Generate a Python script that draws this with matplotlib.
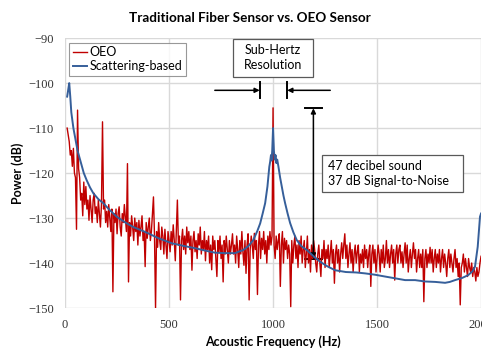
import matplotlib
matplotlib.use("Agg")
import matplotlib.pyplot as plt
from matplotlib.patches import Rectangle

# OEO spectrum, 5 Hz steps from 10 to 2000 Hz (one row per 100 Hz)
oeo_freq = list(range(10, 2001, 5))
oeo_db = [
    -110, -111.5, -113, -116, -115, -118.5, -114.5, -120, -121, -132.5,
    -106, -119, -121, -126, -124.5, -129.5, -122, -127, -123, -128,
    -126, -130.5, -125, -128, -131, -126, -124.5, -129, -127.5, -131,
    -126, -129, -132, -127, -108.6, -128, -126, -131, -128.5, -132,
    -127, -130, -133, -128, -146.4, -129, -131, -128, -133.5, -129,
    -127.5, -132, -134, -129, -131, -127, -130, -133, -117.9, -144.2,
    -131, -134, -129.5, -132, -135, -130, -133, -131, -136, -130.5,
    -134, -132, -129.5, -135, -133, -140.8, -131, -134.5, -132, -130,
    -135, -133, -129, -125.3, -134, -150, -133, -136.5, -131, -135,
    -137, -132, -134, -138, -132.5, -136, -139, -133, -135, -137.5,
    -133, -136, -131.5, -135, -139.5, -133, -126, -136, -134, -148.2,
    -135, -132.5, -137, -134, -138, -132, -135.5, -133, -137, -134,
    -141.6, -135, -133, -137.5, -135, -139, -133.5, -136, -132, -138,
    -135, -137, -133, -139.5, -135, -137, -134, -140, -136, -141.5,
    -134, -137, -135, -139, -143, -135, -137.5, -134, -139, -136,
    -144.2, -135, -138, -134, -137, -140, -135, -138, -136, -133.5,
    -138, -136, -140, -134, -137, -141, -135, -138, -133, -137.5,
    -140.5, -135, -142.3, -136, -133.5, -148.2, -137, -134, -136, -139,
    -133.4, -137, -135, -147, -136, -133, -139, -134.5, -137, -133,
    -138, -135, -140, -134, -137, -133, -136, -134, -105.5, -136,
    -139, -134, -137, -135, -133.5, -145.2, -136, -133, -140, -134.5,
    -137, -135, -139, -136, -138, -149.7, -135, -140, -136, -134,
    -139, -136, -141, -135, -138, -134, -140, -137, -135, -141,
    -138, -134, -140, -137, -142, -136, -139, -135, -137, -140,
    -142, -138, -136, -140, -143, -137, -139, -135, -141, -137,
    -139, -136, -141, -138, -135, -140, -137, -144.5, -138, -136,
    -140, -137, -142, -138, -135.5, -139, -136, -133.5, -139, -136,
    -141, -138, -135.5, -140, -137, -142, -138, -136, -140, -137.5,
    -136, -142, -138, -140, -137, -141, -136, -139, -137, -141,
    -138, -136, -145.2, -138, -136, -140, -137, -142, -139, -136,
    -138, -142, -137, -140, -136, -141, -139, -135, -140, -137,
    -141, -138, -136, -140, -137, -143.8, -138, -136, -140, -137,
    -136, -140, -137.5, -141, -138, -135.5, -140, -136, -142, -139,
    -137, -141, -138, -135.5, -139, -137, -142, -139, -137, -141,
    -138, -141, -137, -148.6, -139, -137, -141, -138, -140, -136.5,
    -140, -137, -142, -139, -137, -141, -138, -140, -137, -142,
    -139, -137, -141, -138, -140, -143, -139, -137, -141, -138,
    -140, -142, -139, -137, -141, -139, -143, -140, -149.3, -141,
    -140, -138, -142, -139, -141, -143, -139, -141, -142, -140,
    -143, -141, -142, -144, -141, -143, -142, -140, -138.5,
]

# scattering-based sensor spectrum
scat_freq = [10, 15, 20, 25, 30, 40, 50, 60, 72, 90, 104, 120, 136, 160, 184,
             210, 248, 290, 328, 370, 400, 450, 513, 570, 625, 680, 721, 770,
             817, 857, 880, 905, 925, 938, 950, 962, 973, 982, 986, 990, 993,
             996, 1000, 1004, 1008, 1012, 1016, 1020, 1026, 1034, 1042, 1050,
             1058, 1070, 1082, 1098, 1114, 1135, 1162, 1190, 1226, 1260, 1298,
             1350, 1400, 1442, 1490, 1538, 1587, 1635, 1683, 1730, 1780, 1827,
             1850, 1875, 1910, 1938, 1960, 1971, 1984, 1995, 2000]
scat_db = [-103, -101.5, -100, -103, -106.5, -110, -112.5, -115, -117, -120,
           -121.6, -123.2, -124.5, -125.8, -126.7, -128, -129.7, -131, -132,
           -132.8, -133.4, -134.5, -135.6, -136.2, -136.7, -137.3, -137.7,
           -137.8, -137.8, -137.1, -136.3, -134.9, -132.8, -131.2, -129,
           -126.7, -123, -118.6, -117.5, -116, -117.2, -115, -110, -115, -117,
           -116, -117.8, -117, -118.6, -121, -123, -125, -126.7, -129, -131.1,
           -133.2, -134.9, -136.2, -137.1, -138.3, -139.7, -140.7, -141.6,
           -142, -142.1, -142.3, -142.6, -143, -143.4, -143.8, -143.8, -144.1,
           -144.2, -144.4, -144.2, -143.8, -143.3, -142.7, -141.8, -140.8,
           -136.4, -129.7, -129]

xticks = [0, 500, 1000, 1500, 2000]
yticks = [-150, -140, -130, -120, -110, -100, -90]

sans = ['Lato', 'DejaVu Sans']
serif = ['Liberation Serif', 'DejaVu Serif']

fig = plt.figure(figsize=(4.82, 3.5), dpi=100)
ax = fig.add_axes([0.135, 0.12, 0.863, 0.771])

ax.plot(oeo_freq, oeo_db, color='#c00000', lw=1.0, label='OEO', zorder=3)
ax.plot(scat_freq, scat_db, color='#365f9a', lw=1.4, label='Scattering-based',
        zorder=4)

ax.set_xlim(0, 2000)
ax.set_ylim(-150, -90)
ax.set_xticks(xticks)
ax.set_yticks(yticks)
ax.grid(True, color='#d9d9d9', lw=1)
ax.set_axisbelow(True)
for s in ax.spines.values():
    s.set_visible(False)
ax.tick_params(length=0, labelsize=9, pad=8)
for lab in ax.get_xticklabels() + ax.get_yticklabels():
    lab.set_family(serif)
    lab.set_color('#333333')

ax.set_xlabel('Acoustic Frequency (Hz)', family=sans, fontweight='bold',
              fontsize=9, labelpad=3)
ax.set_ylabel('Power (dB)', family=sans, fontweight='bold', fontsize=9,
              labelpad=3)
fig.text(0.519, 0.95, 'Traditional Fiber Sensor vs. OEO Sensor', family=sans,
         fontweight='bold', fontsize=9.7, ha='center', va='center')

leg = ax.legend(loc='upper left', bbox_to_anchor=(0.0, 1.0),
                prop={'family': sans, 'size': 9}, fancybox=False,
                edgecolor='#7f7f7f', handlelength=1.1, handletextpad=0.2,
                borderpad=0.3, labelspacing=0.15, borderaxespad=0.35)
leg.get_frame().set_linewidth(0.8)

# resolution markers around the 1 kHz tone
ax.annotate('', xy=(936, -101.6), xytext=(720, -101.6),
            arrowprops=dict(arrowstyle='-|>', color='black', lw=1.1,
                            mutation_scale=7, shrinkA=0, shrinkB=0))
ax.annotate('', xy=(1068, -101.6), xytext=(1275, -101.6),
            arrowprops=dict(arrowstyle='-|>', color='black', lw=1.1,
                            mutation_scale=7, shrinkA=0, shrinkB=0))
ax.plot([938, 938], [-99.8, -103.4], color='black', lw=1.4)
ax.plot([1066, 1066], [-99.8, -103.4], color='black', lw=1.4)
ax.add_patch(Rectangle((808, -98.7), 384, 8.6, fc='white', ec='#595959',
                       lw=0.9, zorder=6, clip_on=False))
ax.text(1000, -94.3, 'Sub-Hertz\nResolution', family=sans, fontsize=9,
        ha='center', va='center', linespacing=1.3, zorder=7)

# signal-to-noise span
ax.annotate('', xy=(1194, -105.6), xytext=(1194, -139),
            arrowprops=dict(arrowstyle='<|-|>', color='black', lw=1.1,
                            mutation_scale=7, shrinkA=0, shrinkB=0))
ax.plot([1154, 1234], [-105.6, -105.6], color='black', lw=1.4)
ax.plot([1154, 1234], [-139, -139], color='black', lw=1.4)
ax.add_patch(Rectangle((1234, -124.2), 681, 8.2, fc='white', ec='#595959',
                       lw=0.9, zorder=6))
ax.text(1262, -120.1, '47 decibel sound\n37 dB Signal-to-Noise', family=sans,
        fontsize=9, ha='left', va='center', linespacing=1.3, zorder=7)

fig.savefig('out.png', dpi=100)
